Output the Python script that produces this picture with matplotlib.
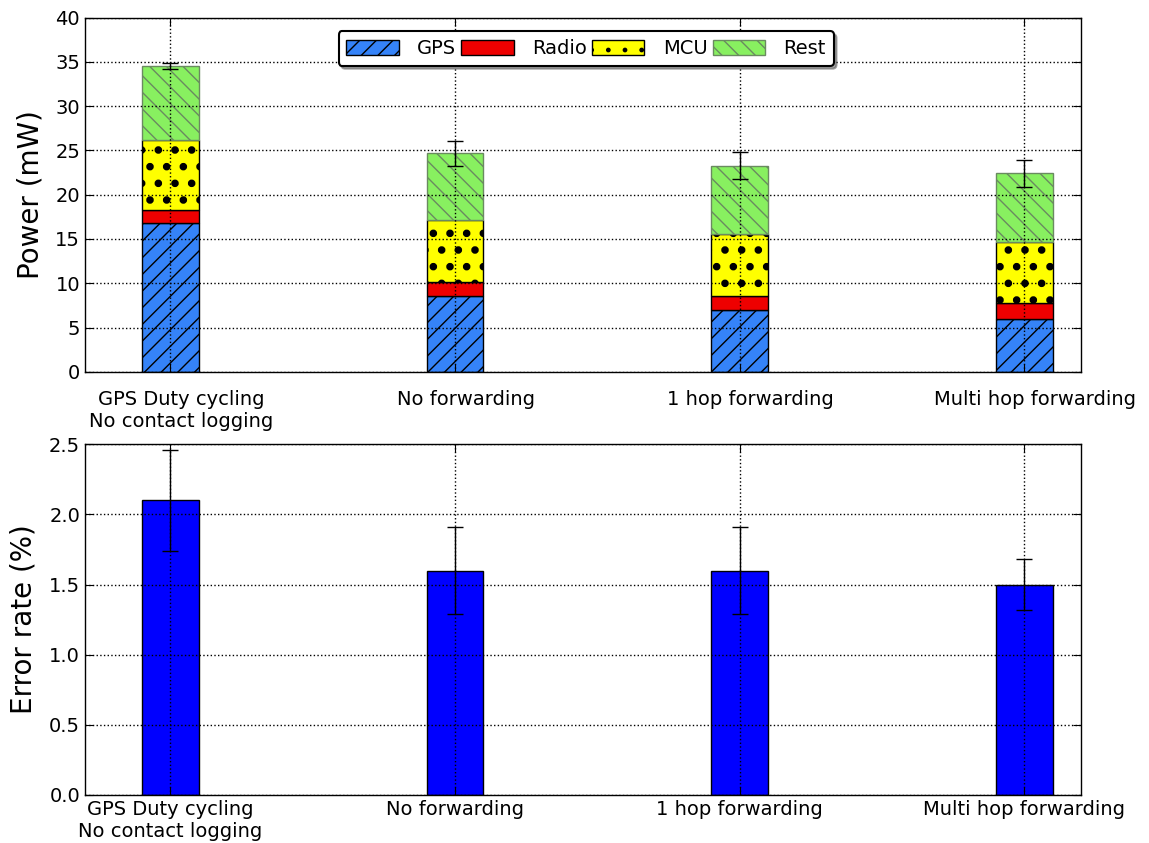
import matplotlib
matplotlib.use('Agg')
from matplotlib import pyplot as plt
import numpy as np

labels = ['GPS Duty cycling\nNo contact logging', 'No forwarding',
          '1 hop forwarding', 'Multi hop forwarding']

# stacked power components (mW)
gps = [16.8, 8.6, 7.0, 6.0]
radio = [1.5, 1.5, 1.6, 1.8]
mcu = [7.9, 7.1, 7.0, 6.9]
rest = [8.3, 7.5, 7.7, 7.7]
power_err = [0.35, 1.4, 1.5, 1.5]

# error rate (%)
error_rate = [2.1, 1.6, 1.6, 1.5]
error_rate_err = [0.36, 0.31, 0.31, 0.18]

plt.rcParams['hatch.linewidth'] = 1.0
plt.rcParams['font.family'] = 'DejaVu Sans'

ind = np.arange(len(labels))
width = 0.2

fig = plt.figure(figsize=(11.49, 8.43), dpi=100)
ax1 = fig.add_axes([0.074, 0.559, 0.867, 0.42])
ax2 = fig.add_axes([0.074, 0.057, 0.867, 0.416])

b_gps = np.array(gps)
b_radio = b_gps + np.array(radio)
b_mcu = b_radio + np.array(mcu)
total = b_mcu + np.array(rest)

p1 = ax1.bar(ind, gps, width, color='#3583f8', edgecolor='black', hatch='//', linewidth=1)
p2 = ax1.bar(ind, radio, width, bottom=b_gps, color='#ee0000', edgecolor='black', linewidth=1)
plt.rcParams['hatch.linewidth'] = 3.0
p3 = ax1.bar(ind, mcu, width, bottom=b_radio, color='#ffff00', edgecolor='black', hatch='.', linewidth=1)
plt.rcParams['hatch.linewidth'] = 1.0
p4 = ax1.bar(ind, rest, width, bottom=b_mcu, color='#88f060', edgecolor='#6a8a60', hatch='\\\\', linewidth=1)
ax1.errorbar(ind, total, yerr=power_err, fmt='none', ecolor='black', capsize=6, elinewidth=1)

ax1.set_xlim(-0.3, 3.2)
ax1.set_ylim(0, 40)
ax1.set_yticks(np.arange(0, 41, 5))
# grid at bar centres, labels slightly to the right like the original
ax1.set_xticks(ind)
ax1.set_xticklabels([])
ax1.set_xticks(ind + 0.037, minor=True)
ax1.set_xticklabels(labels, minor=True, fontsize=14)
ax1.tick_params(axis='x', which='minor', length=0, pad=13)
ax1.set_ylabel('Power (mW)', fontsize=20, labelpad=8)
ax1.grid(True, which='major', color='black', linestyle=':', linewidth=1)
ax1.set_axisbelow(False)
leg = ax1.legend([p1, p2, p3, p4], ['GPS', 'Radio', 'MCU', 'Rest'], loc='upper center',
                 ncol=4, fontsize=14, fancybox=True, shadow=True, handlelength=2.7,
                 handleheight=0.8, columnspacing=0.25, handletextpad=0.95,
                 borderaxespad=0.7, framealpha=1, bbox_to_anchor=(0.503, 1))
leg.get_frame().set_edgecolor('black')
leg.get_frame().set_linewidth(1.5)

ax2.bar(ind, error_rate, width, color='#0000ff', edgecolor='black', linewidth=1)
ax2.errorbar(ind, error_rate, yerr=error_rate_err, fmt='none', ecolor='black', capsize=6, elinewidth=1)
ax2.set_xlim(-0.3, 3.2)
ax2.set_ylim(0, 2.5)
ax2.set_yticks(np.arange(0, 2.51, 0.5))
ax2.set_xticks(ind)
ax2.set_xticklabels(labels, fontsize=14)
ax2.set_ylabel('Error rate (%)', fontsize=20, labelpad=8)
ax2.grid(True, color='black', linestyle=':', linewidth=1)
ax2.set_axisbelow(False)

for ax in (ax1, ax2):
    ax.tick_params(which='major', labelsize=14, direction='in', length=6, top=True, right=True)
    for s in ax.spines.values():
        s.set_linewidth(1)

fig.savefig('out.png', dpi=100)
